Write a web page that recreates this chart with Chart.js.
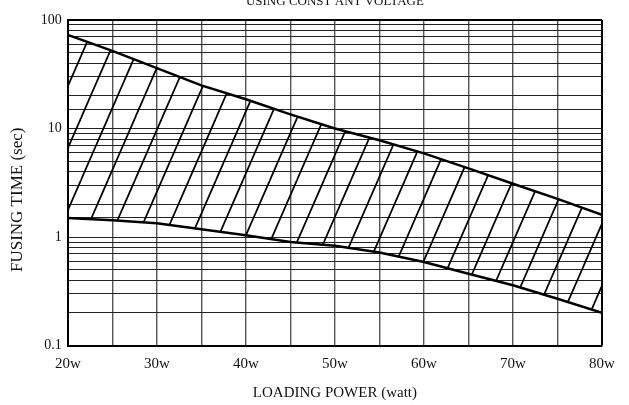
<!DOCTYPE html>
<html>
<head>
<meta charset="utf-8">
<script src="https://cdn.jsdelivr.net/npm/chart.js@4.4.0/dist/chart.umd.min.js"></script>
<style>
  html, body { margin: 0; padding: 0; background: #fff; }
  #wrap { position: relative; width: 629px; height: 405px; overflow: hidden; }
  #box { position: absolute; left: 0; top: -6px; width: 629px; height: 411px; }
</style>
</head>
<body>
<div id="wrap"><div id="box"><canvas id="fusing"></canvas></div></div>
<script>
// loading power (watt) and fusing time band (sec)
const power = [20, 25, 30, 35, 40, 45, 50, 55, 60, 65, 70, 75, 80];
const upperTime = [73, 52, 36, 25, 18.6, 13.5, 10, 7.8, 5.9, 4.3, 3.1, 2.25, 1.6];
const lowerTime = [1.5, 1.43, 1.34, 1.18, 1.04, 0.9, 0.83, 0.72, 0.59, 0.46, 0.36, 0.27, 0.2];
const yLabels = [0.1, 1, 10, 100];
const xLabels = [20, 30, 40, 50, 60, 70, 80];
const chartTitle = 'USING CONST ANT VOLTAGE';

function hatchPattern() {
    const w = 27, h = 62;
    const c = document.createElement('canvas');
    c.width = w;
    c.height = h;
    const g = c.getContext('2d');
    g.strokeStyle = '#000';
    g.lineWidth = 1.7;
    // lines x/w + y/h = n, drawn for n = 0,1,2 so the tile corners join up
    for (let n = 0; n <= 2; n++) {
        g.beginPath();
        g.moveTo(n * w - w, h);
        g.lineTo(n * w + w, -h);
        g.stroke();
    }
    return g.createPattern(c, 'repeat');
}

// title centred over the plot area (not the whole canvas), cut off at the top like the scan
const topTitle = {
    id: 'topTitle',
    afterDraw: function(chart) {
        const a = chart.chartArea;
        const g = chart.ctx;
        g.save();
        g.font = "13px 'Liberation Serif', serif";
        g.fillStyle = '#111';
        g.textAlign = 'center';
        g.textBaseline = 'alphabetic';
        g.fillText(chartTitle, (a.left + a.right) / 2, 11);
        g.restore();
    }
};

Chart.defaults.font.family = "'Liberation Serif', 'Times New Roman', serif";
Chart.defaults.color = '#111';

const ctxFusing = document.getElementById('fusing');

new Chart(ctxFusing, {
    type: 'line',
    data: {
        datasets: [{
            label: 'upper',
            data: power.map((p, i) => ({ x: p, y: upperTime[i] })),
            borderColor: '#000',
            borderWidth: 2.5,
            pointRadius: 0,
            tension: 0,
            fill: '+1',
            backgroundColor: hatchPattern()
        }, {
            label: 'lower',
            data: power.map((p, i) => ({ x: p, y: lowerTime[i] })),
            borderColor: '#000',
            borderWidth: 2.5,
            pointRadius: 0,
            tension: 0,
            fill: false
        }]
    },
    plugins: [topTitle],
    options: {
        responsive: true,
        maintainAspectRatio: false,
        animation: false,
        layout: {
            padding: { top: 26, right: 27, bottom: 2.6, left: 0 }
        },
        plugins: {
            legend: { display: false },
            tooltip: { enabled: false },
            title: { display: false }
        },
        scales: {
            x: {
                type: 'linear',
                min: 20,
                max: 80,
                border: { display: true, color: '#000', width: 2 },
                grid: {
                    drawTicks: false,
                    color: function(c) { return c.tick.value === 80 ? '#000' : '#555'; },
                    lineWidth: function(c) { return c.tick.value === 80 ? 2 : 1.4; }
                },
                ticks: {
                    stepSize: 5,
                    autoSkip: false,
                    maxRotation: 0,
                    padding: 9.4,
                    font: { size: 15 },
                    callback: function(value) {
                        return xLabels.includes(value) ? value + 'w' : '';
                    }
                },
                title: {
                    display: true,
                    text: 'LOADING POWER (watt)',
                    font: { size: 15 },
                    padding: { top: 2, bottom: 0 }
                }
            },
            y: {
                type: 'logarithmic',
                min: 0.1,
                max: 100,
                border: { display: true, color: '#000', width: 2 },
                grid: {
                    drawTicks: false,
                    color: function(c) { return c.tick.value === 100 ? '#000' : '#222'; },
                    lineWidth: function(c) { return c.tick.value === 100 ? 2 : 1; }
                },
                ticks: {
                    autoSkip: false,
                    padding: 6,
                    font: { size: 14 },
                    callback: function(value) {
                        const hit = yLabels.find(v => Math.abs(v - value) < 1e-9);
                        return hit === undefined ? '' : String(hit);
                    }
                },
                title: {
                    display: true,
                    // trailing spaces push the rotated text a little below the axis centre, as in the scan
                    text: 'FUSING TIME (sec)\u00a0\u00a0\u00a0\u00a0\u00a0\u00a0\u00a0\u00a0',
                    font: { size: 17 },
                    padding: { top: 7, bottom: 7.4 }
                }
            }
        }
    }
});
</script>
</body>
</html>
